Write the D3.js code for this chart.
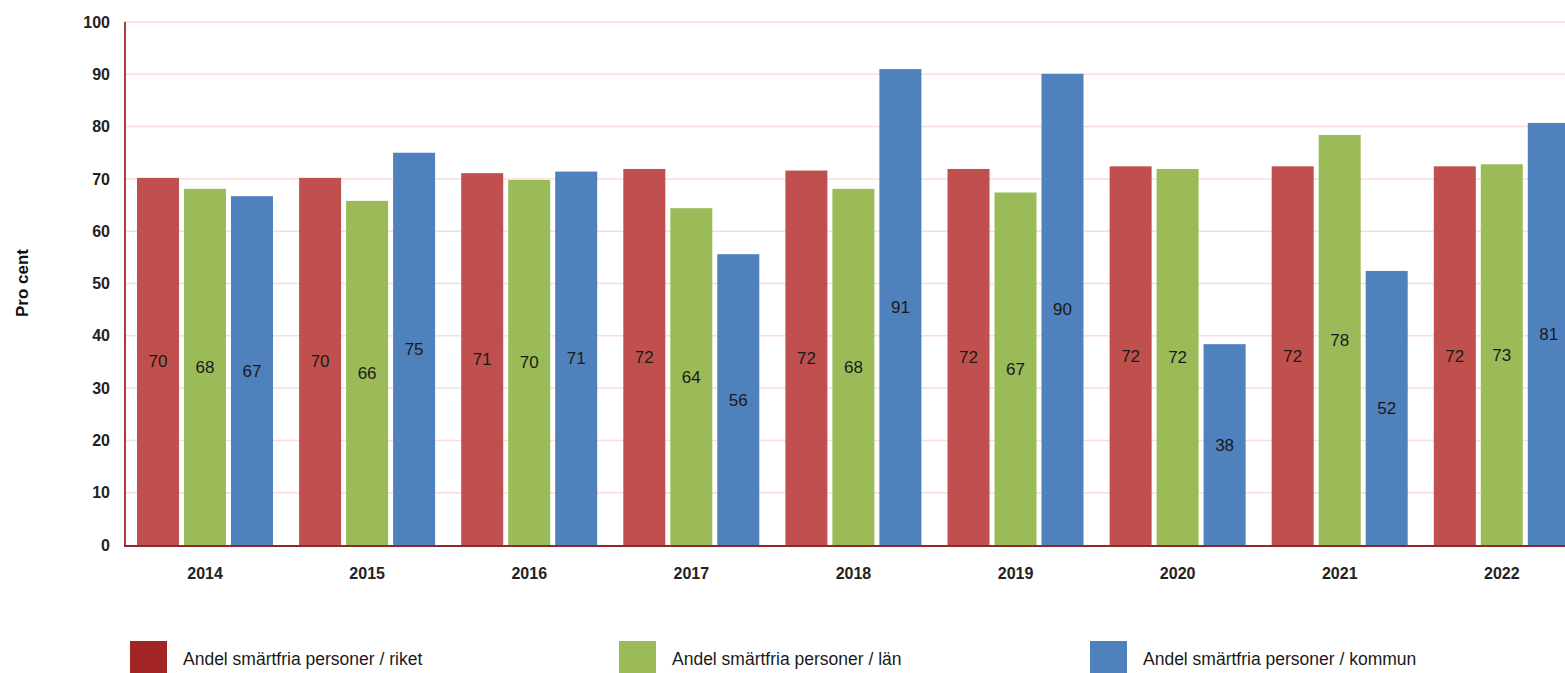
<!DOCTYPE html>
<html>
<head>
<meta charset="utf-8">
<script src="https://cdn.jsdelivr.net/npm/d3@7"></script>
<style>
  html, body { margin: 0; padding: 0; background: #fff; overflow: hidden; }
  svg { display: block; font-family: "Liberation Sans", Arial, sans-serif; }
</style>
</head>
<body>
<svg id="chart" width="1565" height="673"></svg>
<script>
const years = ["2014","2015","2016","2017","2018","2019","2020","2021","2022"];
const seriesNames = [
  "Andel smärtfria personer / riket",
  "Andel smärtfria personer / län",
  "Andel smärtfria personer / kommun"
];
const riket  = [70.2, 70.2, 71.1, 71.9, 71.6, 71.9, 72.4, 72.4, 72.4];
const lan    = [68.1, 65.8, 69.8, 64.4, 68.1, 67.4, 71.9, 78.4, 72.8];
const kommun = [66.7, 75.0, 71.4, 55.6, 91.0, 90.1, 38.4, 52.4, 80.7];
const yTicks = [0,10,20,30,40,50,60,70,80,90,100];
const barColors = ["#c0504d", "#9bbb59", "#4f81bd"];
const legendColors = ["#a32424", "#9bbb59", "#4f81bd"];

const seriesValues = [riket, lan, kommun];
const svg = d3.select("#chart");

const x0 = 124, yTop = 22, yBottom = 545;
const bandW = 162.1;
const x = d3.scaleBand().domain(years).range([x0, x0 + bandW * years.length]).padding(0);
const xs = d3.scaleBand().domain([0,1,2]).range([13, 149]).paddingInner(0.106).paddingOuter(0);
const y = d3.scaleLinear().domain([0, 100]).range([yBottom, yTop]);

// gridlines
svg.append("g").selectAll("line").data(yTicks.filter(t => t > 0)).join("line")
  .attr("x1", x0).attr("x2", 1565)
  .attr("y1", d => y(d)).attr("y2", d => y(d))
  .attr("stroke", "#fbdcdc").attr("stroke-width", 1.5);

// bars
const groups = svg.append("g").selectAll("g").data(years).join("g")
  .attr("transform", d => `translate(${x(d)},0)`);

groups.each(function(yr, i) {
  const g = d3.select(this);
  seriesValues.forEach((vals, s) => {
    const v = vals[i];
    g.append("rect")
      .attr("x", xs(s)).attr("width", xs.bandwidth())
      .attr("y", y(v)).attr("height", y(0) - y(v))
      .attr("fill", barColors[s]);
    g.append("text")
      .attr("x", xs(s) + xs.bandwidth() / 2)
      .attr("y", (y(v) + y(0)) / 2)
      .attr("dy", "0.35em")
      .attr("text-anchor", "middle")
      .attr("font-size", 17)
      .attr("fill", "#1a1a1a")
      .text(Math.round(v));
  });
});

// axes lines
svg.append("line").attr("x1", x0 + 1).attr("x2", x0 + 1).attr("y1", yTop).attr("y2", yBottom)
  .attr("stroke", "#b03a3a").attr("stroke-width", 2);
svg.append("line").attr("x1", x0).attr("x2", 1565).attr("y1", yBottom + 1).attr("y2", yBottom + 1)
  .attr("stroke", "#8b2a2a").attr("stroke-width", 2);

// y tick labels
svg.append("g").selectAll("text").data(yTicks).join("text")
  .attr("x", 110).attr("y", d => y(d)).attr("dy", "0.35em")
  .attr("text-anchor", "end").attr("font-size", 16).attr("font-weight", "bold")
  .attr("fill", "#222").text(d => d);

// x labels
svg.append("g").selectAll("text").data(years).join("text")
  .attr("x", d => x(d) + x.bandwidth() / 2).attr("y", 579)
  .attr("text-anchor", "middle").attr("font-size", 16).attr("font-weight", "bold")
  .attr("fill", "#222").text(d => d);

// y axis title
svg.append("text")
  .attr("transform", "translate(28,283) rotate(-90)")
  .attr("text-anchor", "middle").attr("font-size", 17).attr("font-weight", "bold")
  .attr("fill", "#111").text("Pro cent");

// legend
const legendX = [130, 619, 1090];
const lg = svg.append("g").selectAll("g").data(seriesNames).join("g")
  .attr("transform", (d, i) => `translate(${legendX[i]},641)`);
lg.append("rect").attr("width", 37).attr("height", 40).attr("fill", (d, i) => legendColors[i]);
lg.append("text").attr("x", 53).attr("y", 24).attr("font-size", 17.5).attr("fill", "#1a1a1a").text(d => d);
</script>
</body>
</html>
